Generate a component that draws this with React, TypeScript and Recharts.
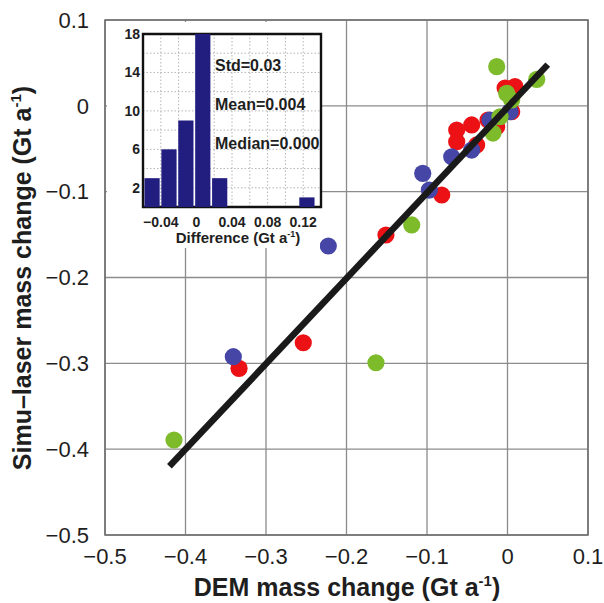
import React from 'react';
import {
  ScatterChart, Scatter, XAxis, YAxis, CartesianGrid, ReferenceArea,
  ComposedChart, Bar,
} from 'recharts';

// ---- main scatter data ----
const redPoints = [
  { x: -0.3335, y: -0.3058 }, { x: -0.2537, y: -0.276 }, { x: -0.151, y: -0.1505 },
  { x: -0.0817, y: -0.1039 }, { x: -0.003, y: 0.0208 }, { x: 0.0093, y: 0.0223 },
  { x: 0.0052, y: -0.0068 }, { x: -0.0242, y: -0.0165 }, { x: -0.0445, y: -0.0223 },
  { x: -0.0631, y: -0.0282 }, { x: -0.0631, y: -0.0418 }, { x: -0.0383, y: -0.0456 },
  { x: -0.0134, y: -0.0243 },
];
const bluePoints = [
  { x: -0.3406, y: -0.2923 }, { x: -0.2226, y: -0.1633 }, { x: -0.1053, y: -0.0786 },
  { x: -0.0971, y: -0.0981 }, { x: -0.0693, y: -0.0593 }, { x: -0.0445, y: -0.0515 },
  { x: -0.0217, y: -0.0165 }, { x: 0.0031, y: -0.0068 },
];
const greenPoints = [
  { x: -0.4143, y: -0.3893 }, { x: -0.1634, y: -0.2993 }, { x: -0.119, y: -0.1388 },
  { x: -0.0134, y: 0.0456 }, { x: 0.0363, y: 0.0309 }, { x: -0.001, y: 0.0146 },
  { x: 0.0052, y: 0.0068 }, { x: -0.0093, y: -0.0127 }, { x: -0.018, y: -0.0317 },
];
const fitLine = [{ x: -0.42, y: -0.42 }, { x: 0.05, y: 0.048 }];
const mainXTicks = [-0.5, -0.4, -0.3, -0.2, -0.1, 0, 0.1];
const mainYTicks = [-0.5, -0.4, -0.3, -0.2, -0.1, 0, 0.1];
const mainDomain = [-0.5, 0.1];

// ---- histogram data ----
const histCenters = [-0.05, -0.031, -0.012, 0.007, 0.026, 0.124];
const histCounts = [3, 6, 9, 18, 3, 1];
const histXTicks = [-0.04, -0.02, 0, 0.02, 0.04, 0.06, 0.08, 0.1, 0.12];
const histXLabeled = [-0.04, 0, 0.04, 0.08, 0.12];
const histYTicks = [2, 4, 6, 8, 10, 12, 14, 16, 18];
const histYLabeled = [2, 6, 10, 14, 18];
const histXDomain = [-0.06, 0.14];
const histYDomain = [0, 18];
const statLines = ['Std=0.03', 'Mean=0.004', 'Median=0.000'];

const histData = histCenters.map((c, i) => ({ x: c, count: histCounts[i] }));

const FONT = '"Liberation Sans", Arial, Helvetica, sans-serif';
const RED = '#ec1115';
const BLUE = '#4646a6';
const GREEN = '#7dbb2b';
const NAVY = '#211e80';

const fmt = (v: number) => {
  const r = Math.round(v * 1000) / 1000;
  return r < 0 ? '\u2212' + String(Math.abs(r)) : String(r);
};

const dot = (color: string) => (props: any) => (
  <circle cx={props.cx} cy={props.cy} r={8.6} fill={color} />
);

export default function App() {
  return (
    <div style={{ position: 'absolute', left: 0, top: 0, width: 604, height: 603, background: '#fff', fontFamily: FONT }}>
      <ScatterChart width={604} height={603} margin={{ top: 20, right: 16, bottom: 0, left: 0 }}>
        <CartesianGrid stroke="#8c8c8c" strokeWidth={1.3} />
        <XAxis
          type="number" dataKey="x" domain={mainDomain} ticks={mainXTicks} allowDataOverflow
          tickFormatter={fmt} height={68} tickLine={false} axisLine={false}
          tickSize={0} tickMargin={13} interval={0}
          tick={{ fontSize: 22, fill: '#1e1e1e', fontFamily: FONT }}
        />
        <YAxis
          type="number" dataKey="y" domain={mainDomain} ticks={mainYTicks} allowDataOverflow
          tickFormatter={fmt} width={105} tickLine={false} axisLine={false}
          tickSize={0} tickMargin={16} interval={0}
          tick={{ fontSize: 22, fill: '#1e1e1e', fontFamily: FONT }}
        />
        <ReferenceArea x1={-0.5} x2={0.1} y1={-0.5} y2={0.1} fill="none" stroke="#707070" strokeWidth={1.6} />
        <Scatter data={redPoints} fill={RED} shape={dot(RED)} isAnimationActive={false} />
        <Scatter data={bluePoints} fill={BLUE} shape={dot(BLUE)} isAnimationActive={false} />
        <Scatter data={greenPoints} fill={GREEN} shape={dot(GREEN)} isAnimationActive={false} />
        <Scatter
          data={fitLine} shape={() => <g />} isAnimationActive={false}
          line={{ stroke: '#1a1a1a', strokeWidth: 6.5 }} lineType="joint"
        />
      </ScatterChart>

      <div style={{ position: 'absolute', left: 107, top: 22, width: 213, height: 226, background: '#fff' }} />
      <div style={{ position: 'absolute', left: 110, top: 22, width: 213, height: 226 }}>
        <ComposedChart width={213} height={224} data={histData} margin={{ top: 12, right: 2, bottom: 0, left: 0 }}>
          <CartesianGrid stroke="#b5b5b5" strokeWidth={1} strokeDasharray="1.5 2" />
          <XAxis
            type="number" dataKey="x" domain={histXDomain} ticks={histXTicks} allowDataOverflow
            interval={0} height={39} tickLine={false} axisLine={false} tickSize={0} tickMargin={10}
            tickFormatter={(v: number) => (histXLabeled.some((t) => Math.abs(t - v) < 1e-9) ? fmt(v) : '')}
            tick={{ fontSize: 14, fontWeight: 700, fill: '#1e1e1e', fontFamily: FONT }}
          />
          <YAxis
            type="number" domain={histYDomain} ticks={histYTicks} allowDataOverflow
            interval={0} width={33} tickLine={false} axisLine={false} tickSize={0} tickMargin={3}
            tickFormatter={(v: number) => (histYLabeled.includes(v) ? String(v) : '')}
            tick={{ fontSize: 14, fontWeight: 700, fill: '#1e1e1e', fontFamily: FONT }}
          />
          <Bar dataKey="count" fill={NAVY} barSize={17} isAnimationActive={false} />
          <ReferenceArea x1={-0.06} x2={0.14} y1={0} y2={18} fill="none" stroke="#111" strokeWidth={2.4} />
        </ComposedChart>
      </div>

      <svg width={604} height={603} style={{ position: 'absolute', left: 0, top: 0, pointerEvents: 'none' }}>
        <text x={347} y={596} textAnchor="middle" fontSize={25} fontWeight={700} fill="#1e1e1e" fontFamily={FONT}>
          DEM mass change (Gt a<tspan fontSize={15} dy={-10}>-1</tspan><tspan dy={10}>)</tspan>
        </text>
        <text
          x={0} y={0} transform="translate(31,278) rotate(-90)" textAnchor="middle"
          fontSize={25} fontWeight={700} fill="#1e1e1e" fontFamily={FONT}
        >
          Simu–laser mass change (Gt a<tspan fontSize={15} dy={-10}>-1</tspan><tspan dy={10}>)</tspan>
        </text>
        <text x={238} y={243} textAnchor="middle" fontSize={15} fontWeight={700} fill="#1e1e1e" fontFamily={FONT}>
          Difference (Gt a<tspan fontSize={9} dy={-6}>-1</tspan><tspan dy={6}>)</tspan>
        </text>
        {statLines.map((s, i) => (
          <text key={s} x={215} y={71 + i * 39} fontSize={16} fontWeight={700} fill="#1e1e1e" fontFamily={FONT}>
            {s}
          </text>
        ))}
      </svg>
    </div>
  );
}
